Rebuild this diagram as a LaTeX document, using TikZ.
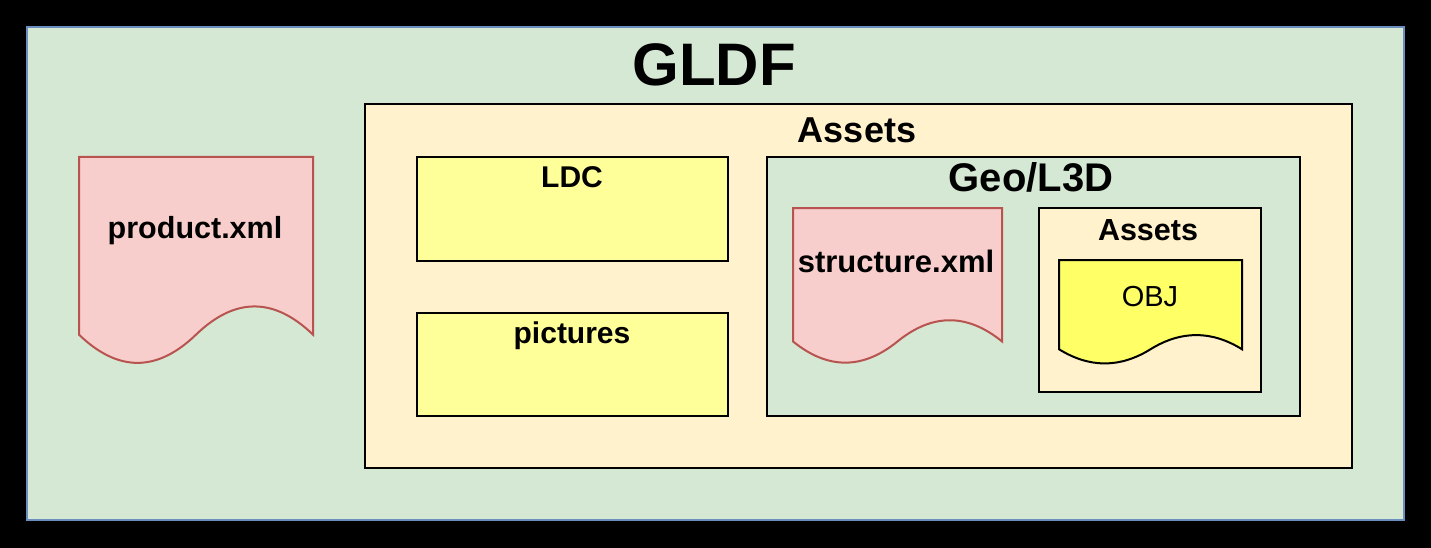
\documentclass[tikz,border=0pt]{standalone}
\usepackage{fontspec}
\setmainfont{Liberation Sans}
\usepackage{tikz}
\usetikzlibrary{positioning}

\definecolor{gldfgreen}{HTML}{D5E8D4}
\definecolor{gldfblue}{HTML}{6C8EBF}
\definecolor{assetyellow}{HTML}{FFF2CC}
\definecolor{folderyellow}{HTML}{FFFF99}
\definecolor{objyellow}{HTML}{FFFF66}
\definecolor{xmlred}{HTML}{F8CECC}
\definecolor{xmlborder}{HTML}{B85450}

% style, left, top, width, height
\newcommand{\docshape}[5]{%
  \draw[#1] (#2,#3) -- ({#2+#4},#3) -- ({#2+#4},{#3+0.85*#5})
    .. controls ({#2+5*#4/6},{#3+0.67*#5}) and ({#2+2*#4/3},{#3+0.67*#5}) .. ({#2+#4/2},{#3+0.85*#5})
    .. controls ({#2+#4/3},{#3+1.03*#5}) and ({#2+#4/6},{#3+1.03*#5}) .. (#2,{#3+0.85*#5}) -- cycle;}

\begin{document}
\begin{tikzpicture}[x=1pt,y=-1pt,
    box/.style={draw=black,line width=2},
    xmlfile/.style={draw=xmlborder,fill=xmlred,line width=2},
    lbl/.style={anchor=base,inner sep=0pt,font=\bfseries\fontsize{30.5}{36}\selectfont}]
  \fill[black] (0,0) rectangle (1431,548);
  \draw[gldfblue,fill=gldfgreen,line width=2.5] (27,27) rectangle (1404,520);
  \node[anchor=base,inner sep=0pt,font=\bfseries\fontsize{60}{72}\selectfont] (gldf) at (714,86) {GLDF};

  \docshape{xmlfile}{79}{157}{234}{209}
  \node[lbl] (product) at (195,238) {product.xml};

  \draw[box,fill=assetyellow] (365,104) rectangle (1352,468);
  \node[lbl,font=\bfseries\fontsize{36}{42}\selectfont] (assets) at (857,143) {Assets};

  \draw[box,fill=folderyellow] (417,157) rectangle (728,261);
  \node[lbl,font=\bfseries\fontsize{30}{36}\selectfont] (ldc) at (572,187) {LDC};
  \draw[box,fill=folderyellow] (417,313) rectangle (728,416);
  \node[lbl,font=\bfseries\fontsize{30}{36}\selectfont] (pictures) at (572,343) {pictures};

  \draw[box,fill=gldfgreen] (767,157) rectangle (1300,416);
  \node[lbl,font=\bfseries\fontsize{40}{48}\selectfont] (geo) at (1031,192) {Geo/L3D};
  \docshape{xmlfile}{793}{208}{209}{157}
  \node[lbl,font=\bfseries\fontsize{31}{37}\selectfont] (structure) at (896,272) {structure.xml};

  \draw[box,fill=assetyellow] (1039,208) rectangle (1261,392);
  \node[lbl] (geoassets) at (1148,240) {Assets};
  \docshape{box,fill=objyellow}{1059}{260}{183}{105}
  \node[anchor=base,inner sep=0pt,font=\fontsize{29}{35}\selectfont] (obj) at (1150,306) {OBJ};
\end{tikzpicture}
\end{document}
